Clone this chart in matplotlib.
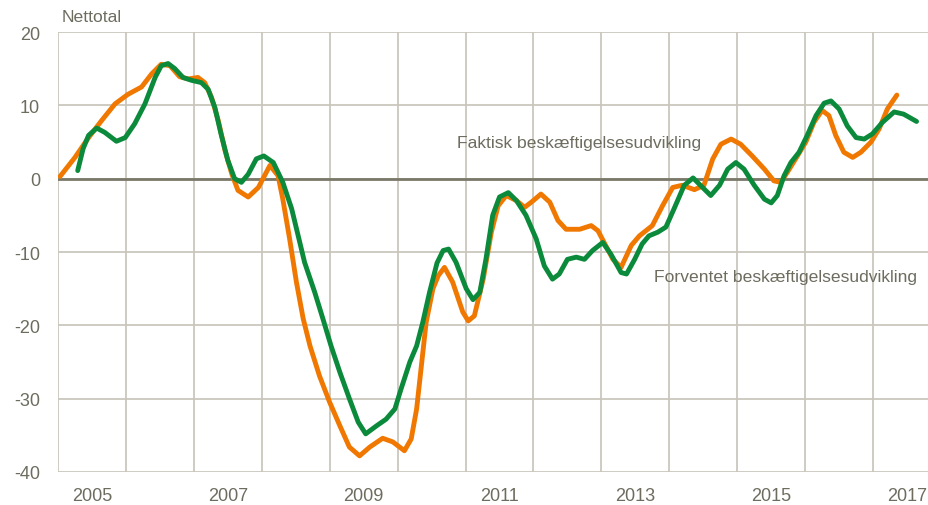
import matplotlib
matplotlib.use("Agg")
import matplotlib.pyplot as plt

# ---- data ----
faktisk_t = [2005.03, 2005.25, 2005.45, 2005.64, 2005.84, 2006.03, 2006.23, 2006.38, 2006.52, 2006.65,
             2006.79, 2006.92, 2007.06, 2007.16, 2007.26, 2007.36, 2007.46, 2007.56, 2007.65, 2007.80,
             2007.95, 2008.12, 2008.24, 2008.31, 2008.41, 2008.51, 2008.61, 2008.71, 2008.85, 2009.00,
             2009.15, 2009.29, 2009.44, 2009.59, 2009.78, 2009.93, 2010.10, 2010.20, 2010.28, 2010.35,
             2010.42, 2010.52, 2010.60, 2010.69, 2010.81, 2010.96, 2011.04, 2011.13, 2011.26, 2011.38,
             2011.48, 2011.60, 2011.75, 2011.87, 2011.97, 2012.11, 2012.24, 2012.36, 2012.48, 2012.68,
             2012.85, 2012.95, 2013.04, 2013.17, 2013.29, 2013.44, 2013.56, 2013.75, 2013.90, 2014.05,
             2014.19, 2014.37, 2014.51, 2014.64, 2014.76, 2014.91, 2015.05, 2015.22, 2015.40, 2015.54,
             2015.64, 2015.74, 2015.86, 2016.01, 2016.13, 2016.25, 2016.35, 2016.45, 2016.57, 2016.70,
             2016.82, 2016.97, 2017.09, 2017.21, 2017.35]
faktisk_v = [0.3, 2.9, 5.6, 7.9, 10.2, 11.5, 12.5, 14.3, 15.6, 15.4,
             13.9, 13.6, 13.8, 13.1, 11.1, 7.9, 3.8, 0.6, -1.6, -2.5,
             -1.2, 1.8, 0.4, -2.8, -8.2, -14.1, -19.1, -22.8, -26.9, -30.5,
             -33.7, -36.6, -37.8, -36.6, -35.4, -35.9, -37.1, -35.5, -31.4, -25.5,
             -19.6, -15.0, -13.2, -12.1, -14.1, -18.2, -19.4, -18.7, -13.7, -7.3,
             -3.7, -2.3, -3.0, -3.9, -3.2, -2.1, -3.2, -5.7, -6.9, -6.9,
             -6.4, -7.1, -8.7, -11.0, -12.1, -9.1, -7.8, -6.4, -3.7, -1.2,
             -0.9, -1.5, -0.9, 2.7, 4.7, 5.4, 4.7, 3.1, 1.3, -0.3,
             -0.5, 0.9, 2.7, 5.0, 7.7, 9.3, 8.6, 5.9, 3.6, 2.9,
             3.6, 5.0, 6.8, 9.5, 11.4]

forventet_t = [2005.29, 2005.37, 2005.45, 2005.57, 2005.69, 2005.86, 2005.99, 2006.13, 2006.28, 2006.43,
               2006.52, 2006.62, 2006.72, 2006.84, 2006.97, 2007.11, 2007.21, 2007.31, 2007.40, 2007.50,
               2007.60, 2007.70, 2007.80, 2007.92, 2008.03, 2008.17, 2008.31, 2008.44, 2008.56, 2008.63,
               2008.78, 2008.90, 2009.02, 2009.15, 2009.29, 2009.42, 2009.53, 2009.69, 2009.83, 2009.96,
               2010.05, 2010.18, 2010.28, 2010.37, 2010.47, 2010.58, 2010.67, 2010.75, 2010.86, 2011.01,
               2011.11, 2011.21, 2011.30, 2011.40, 2011.50, 2011.63, 2011.75, 2011.89, 2012.04, 2012.16,
               2012.28, 2012.38, 2012.50, 2012.63, 2012.75, 2012.87, 2013.02, 2013.14, 2013.29, 2013.37,
               2013.49, 2013.60, 2013.70, 2013.83, 2013.95, 2014.07, 2014.22, 2014.35, 2014.49, 2014.61,
               2014.74, 2014.86, 2014.98, 2015.10, 2015.25, 2015.40, 2015.50, 2015.59, 2015.69, 2015.79,
               2015.91, 2016.03, 2016.16, 2016.28, 2016.38, 2016.50, 2016.62, 2016.75, 2016.87, 2016.99,
               2017.14, 2017.31, 2017.45, 2017.64]
forventet_v = [1.1, 4.1, 5.9, 6.9, 6.3, 5.1, 5.6, 7.5, 10.2, 13.8,
               15.4, 15.7, 15.0, 13.8, 13.4, 13.1, 12.2, 9.7, 6.1, 2.5,
               0.0, -0.5, 0.6, 2.7, 3.1, 2.2, -0.5, -4.1, -8.7, -11.4,
               -15.5, -19.1, -22.8, -26.4, -30.0, -33.2, -34.8, -33.7, -32.8, -31.4,
               -28.7, -25.0, -22.8, -19.6, -15.5, -11.5, -9.8, -9.6, -11.4, -15.0,
               -16.5, -15.5, -11.0, -5.0, -2.5, -1.9, -3.0, -5.0, -8.2, -11.9,
               -13.7, -13.0, -11.0, -10.7, -11.0, -9.8, -8.7, -10.3, -12.8, -13.0,
               -11.0, -8.9, -7.8, -7.3, -6.6, -4.1, -0.9, 0.1, -1.2, -2.3,
               -0.9, 1.3, 2.2, 1.3, -0.9, -2.8, -3.3, -2.3, 0.4, 2.2,
               3.6, 5.9, 8.6, 10.3, 10.6, 9.5, 7.2, 5.6, 5.4, 6.1,
               7.7, 9.1, 8.8, 7.8]

year_labels = ["2005", "2007", "2009", "2011", "2013", "2015", "2017"]
y_ticks = [20, 10, 0, -10, -20, -30, -40]

# ---- styling ----
plt.rcParams["font.family"] = ["Liberation Sans", "DejaVu Sans"]
TS, LS = 12.6, 13

TXT = "#6d6c5f"
GRID = "#c9c7bd"
ORANGE = "#f07800"
GREEN = "#0b8a3b"

fig = plt.figure(figsize=(9.29, 5.06), dpi=100)
ax = fig.add_axes([58/929, 33/506, 883/929, 440/506])

ax.set_xlim(2005, 2018)
ax.set_ylim(-40, 20)

for yr in range(2005, 2019):
    ax.axvline(yr, color=GRID, lw=1.3, zorder=0)
for yv in y_ticks:
    ax.axhline(yv, color=GRID, lw=1.3, zorder=0)
ax.axhline(0, color="#7a7868", lw=2.0, zorder=1)

ax.plot(faktisk_t, faktisk_v, color=ORANGE, lw=3.5, solid_capstyle="round", solid_joinstyle="round", zorder=3)
ax.plot(forventet_t, forventet_v, color=GREEN, lw=3.5, solid_capstyle="round", solid_joinstyle="round", zorder=4)

for s in ax.spines.values():
    s.set_visible(False)

ax.set_yticks(y_ticks)
ax.set_yticklabels([str(v) for v in y_ticks])
ax.set_xticks([int(l) + 0.5 for l in year_labels])
ax.set_xticklabels(year_labels)
ax.tick_params(axis="both", length=0, labelsize=LS, colors=TXT)
ax.tick_params(axis="y", pad=13)
ax.tick_params(axis="x", pad=11)

fig.text(62/929, 1 - 18/506, "Nettotal", fontsize=TS, color=TXT, va="center", ha="left")
ax.text(2010.88, 5.0, "Faktisk beskæftigelsesudvikling", fontsize=TS, color=TXT, ha="left", va="center")
ax.text(2013.78, -13.4, "Forventet beskæftigelsesudvikling", fontsize=TS, color=TXT, ha="left", va="center")

fig.savefig("out.png", dpi=100)
